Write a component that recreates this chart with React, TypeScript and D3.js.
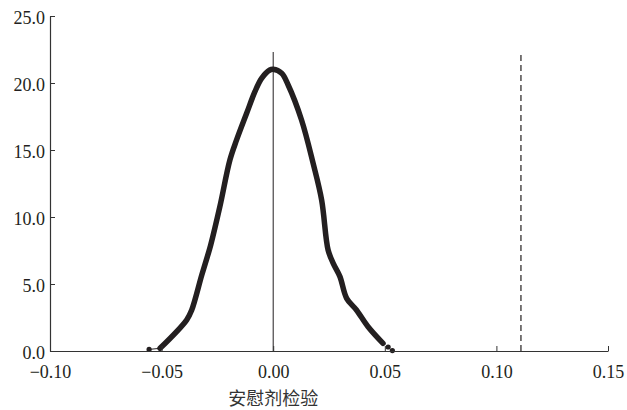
import React from 'react';
import * as d3 from 'd3';

// kernel density of placebo coefficients
const densityX = [-0.0507, -0.0388, -0.0365, -0.032, -0.0295, -0.028, -0.0239, -0.0194, -0.0164, -0.0119, -0.0082, -0.0052, -0.0015, 0, 0.0038, 0.0067, 0.0127, 0.0179, 0.0217, 0.0246, 0.0269, 0.0299, 0.0329, 0.0373, 0.0425, 0.0492];
const densityY = [0.2, 2.31, 3.06, 5.67, 7.04, 7.91, 10.77, 14.25, 15.75, 17.74, 19.35, 20.35, 20.97, 21.02, 20.72, 19.85, 17.24, 14.0, 11.27, 7.54, 6.54, 5.55, 3.93, 3.06, 1.81, 0.57];

// extreme points drawn as dots at both tails
const tailX = [-0.0556, 0.0515, 0.0534];
const tailY = [0.12, 0.3, 0.03];

const xTicks = [-0.1, -0.05, 0, 0.05, 0.1, 0.15];
const yTicks = [0, 5, 10, 15, 20, 25];

const zeroLine = 0;
const trueCoef = 0.111;
const xLabel = '安慰剂检验';

export default function App() {
    const width = 627;
    const height = 410;
    const margin = { top: 16, right: 19, bottom: 59, left: 50 };
    const innerWidth = width - margin.left - margin.right;
    const innerHeight = height - margin.top - margin.bottom;

    const xScale = d3.scaleLinear().domain([-0.1, 0.15]).range([0, innerWidth]);
    const yScale = d3.scaleLinear().domain([0, 25]).range([innerHeight, 0]);

    const xAxis = d3.axisBottom(xScale)
        .tickValues(xTicks)
        .tickFormat(d3.format('.2f'))
        .tickSizeInner(-5)
        .tickSizeOuter(0)
        .tickPadding(14);

    const yAxis = d3.axisLeft(yScale)
        .tickValues(yTicks)
        .tickFormat(d3.format('.1f'))
        .tickSizeInner(-5)
        .tickSizeOuter(0)
        .tickPadding(5);

    const points = densityX.map((x, i) => [x, densityY[i]]);
    const line = d3.line()
        .x(d => xScale(d[0]))
        .y(d => yScale(d[1]))
        .curve(d3.curveCatmullRom);

    const styleAxis = (node, axis, isY) => {
        if (!node) return;
        const g = d3.select(node);
        g.call(axis);
        g.selectAll('path.domain').attr('stroke', '#333').attr('stroke-width', 1.2);
        g.selectAll('.tick line').attr('stroke', '#333').attr('stroke-width', 1);
        g.selectAll('.tick text')
            .attr('fill', '#231f20')
            .attr('font-family', '"Liberation Serif", "DejaVu Serif", serif')
            .attr('font-size', 18);
        if (isY) g.selectAll('.tick text').attr('dy', '0.4em');
        g.attr('font-family', null).attr('font-size', null);
    };

    return (
        <svg width={width} height={height} style={{ position: 'absolute', left: 0, top: 0 }}>
            <rect width={width} height={height} fill="white" />
            <g transform={`translate(${margin.left}, ${margin.top})`}>
                {/* reference line at zero */}
                <line
                    x1={xScale(zeroLine)}
                    x2={xScale(zeroLine)}
                    y1={36}
                    y2={innerHeight}
                    stroke="#231f20"
                    strokeWidth="1"
                />
                {/* actual estimate */}
                <line
                    x1={xScale(trueCoef)}
                    x2={xScale(trueCoef)}
                    y1={39}
                    y2={innerHeight}
                    stroke="#231f20"
                    strokeWidth="1.2"
                    strokeDasharray="6 4"
                />
                {/* thin connector from left tail dot */}
                <line
                    x1={xScale(tailX[0])}
                    y1={yScale(tailY[0])}
                    x2={xScale(densityX[0])}
                    y2={yScale(densityY[0])}
                    stroke="#231f20"
                    strokeWidth="1"
                />
                <path
                    d={line(points)}
                    fill="none"
                    stroke="#231f20"
                    strokeWidth="5.5"
                    strokeLinecap="round"
                    strokeLinejoin="round"
                />
                {tailX.map((x, i) => (
                    <circle key={i} cx={xScale(x)} cy={yScale(tailY[i])} r="2.6" fill="#231f20" />
                ))}
                <g transform={`translate(0, ${innerHeight})`}>
                    <g ref={node => styleAxis(node, xAxis, false)} />
                </g>
                <g ref={node => styleAxis(node, yAxis, true)} />
                <text
                    x={xScale(0)}
                    y={innerHeight + 46}
                    textAnchor="middle"
                    dominantBaseline="central"
                    fontFamily='"Noto Sans CJK SC", sans-serif'
                    fontSize="18"
                    fill="#333"
                >
                    {xLabel}
                </text>
            </g>
        </svg>
    );
}
